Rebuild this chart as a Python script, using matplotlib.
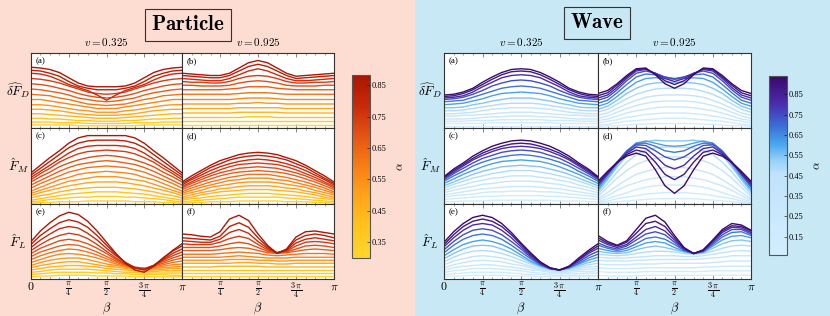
import numpy as np
import matplotlib
matplotlib.use("Agg")
import matplotlib.pyplot as plt
from matplotlib.colors import LinearSegmentedColormap, Normalize
from matplotlib.cm import ScalarMappable
from matplotlib.patches import Rectangle

plt.rcParams["mathtext.fontset"] = "cm"
plt.rcParams["font.family"] = "serif"
plt.rcParams["font.serif"] = ["Liberation Serif", "DejaVu Serif"]

# sample points in beta (units of pi)
beta_pi = [0, 0.0625, 0.125, 0.1875, 0.25, 0.3125, 0.375, 0.4375, 0.5,
           0.5625, 0.625, 0.6875, 0.75, 0.8125, 0.875, 0.9375, 1.0]

particle_alpha = [0.32, 0.36, 0.40, 0.445, 0.49, 0.53, 0.57, 0.615, 0.66, 0.70, 0.74, 0.785, 0.83, 0.87]
wave_alpha = [0.08, 0.145, 0.21, 0.28, 0.345, 0.41, 0.48, 0.545, 0.61, 0.68, 0.745, 0.81, 0.88, 0.93]

# curves, % of panel height, lowest alpha first
particle_a = [
    [4, 4, 4, 4, 4, 3, 3, 3, 3, 3, 3, 3, 4, 4, 4, 4, 4],
    [8, 8, 8, 7, 7, 7, 6, 6, 6, 6, 6, 7, 7, 7, 8, 8, 8],
    [13, 13, 12, 12, 11, 10, 10, 9, 9, 9, 10, 10, 11, 12, 12, 13, 13],
    [19, 19, 18, 17, 16, 15, 14, 13, 13, 13, 14, 15, 16, 17, 18, 19, 19],
    [25, 25, 24, 23, 21, 19, 18, 17, 17, 17, 18, 19, 21, 23, 24, 25, 25],
    [31, 31, 30, 28, 26, 24, 23, 21, 21, 21, 23, 24, 26, 28, 30, 31, 31],
    [38, 38, 36, 34, 32, 30, 28, 26, 26, 26, 28, 30, 32, 34, 36, 38, 38],
    [45, 44, 43, 40, 38, 35, 32, 31, 30, 31, 32, 35, 38, 40, 43, 44, 45],
    [52, 51, 49, 47, 44, 40, 38, 36, 35, 36, 38, 40, 44, 47, 49, 51, 52],
    [59, 58, 56, 53, 50, 46, 43, 41, 40, 41, 43, 46, 50, 53, 56, 58, 59],
    [66, 65, 63, 60, 56, 52, 48, 46, 45, 46, 48, 52, 56, 60, 63, 65, 66],
    [73, 72, 69, 64, 58, 54, 50, 44, 37, 44, 50, 54, 58, 64, 69, 72, 73],
    [77, 76, 73, 69, 62, 56, 53, 51, 51, 51, 53, 56, 62, 69, 73, 76, 77],
    [81, 80, 78, 74, 67, 60, 56, 55, 55, 55, 56, 60, 67, 74, 78, 80, 81],
]
particle_b = [
    [4, 4, 4, 4, 4, 4, 4, 4, 4, 4, 4, 4, 4, 4, 4, 4, 4],
    [9, 9, 9, 9, 9, 9, 9, 9, 9, 9, 9, 9, 9, 9, 9, 9, 9],
    [14, 14, 14, 14, 14, 14, 14, 15, 15, 15, 14, 14, 14, 14, 14, 14, 14],
    [20, 20, 20, 20, 20, 20, 21, 21, 21, 21, 21, 20, 20, 20, 20, 20, 20],
    [26, 26, 26, 26, 26, 26, 27, 27, 27, 27, 27, 26, 26, 26, 26, 26, 26],
    [32, 32, 32, 32, 32, 32, 33, 33, 34, 33, 33, 32, 32, 32, 32, 32, 32],
    [38, 38, 38, 38, 38, 38, 39, 40, 40, 40, 39, 38, 38, 38, 38, 38, 38],
    [45, 45, 45, 45, 45, 45, 46, 47, 47, 47, 46, 45, 45, 45, 45, 45, 45],
    [51, 51, 51, 51, 51, 52, 53, 55, 55, 55, 53, 52, 51, 51, 51, 51, 51],
    [57, 57, 56, 56, 56, 57, 60, 62, 63, 62, 60, 57, 56, 56, 56, 57, 57],
    [62, 61, 61, 60, 60, 62, 66, 69, 70, 69, 66, 62, 60, 60, 61, 61, 62],
    [66, 65, 64, 63, 63, 66, 71, 76, 79, 76, 71, 66, 63, 63, 64, 65, 66],
    [70, 69, 68, 67, 67, 70, 76, 82, 85, 82, 76, 70, 66, 67, 68, 69, 70],
    [73, 72, 71, 70, 70, 73, 80, 87, 90, 87, 80, 73, 69, 70, 71, 72, 73],
]
particle_c = [
    [1, 2, 2, 3, 3, 3, 4, 4, 4, 4, 4, 3, 3, 3, 2, 2, 1],
    [3, 4, 6, 7, 8, 9, 9, 10, 10, 10, 9, 9, 8, 7, 6, 4, 3],
    [5, 7, 9, 11, 13, 14, 15, 16, 16, 16, 15, 14, 13, 11, 9, 7, 5],
    [8, 11, 13, 16, 18, 20, 21, 22, 22, 22, 21, 20, 18, 16, 13, 11, 8],
    [11, 15, 18, 21, 24, 26, 28, 29, 29, 29, 28, 26, 24, 21, 18, 15, 11],
    [14, 18, 22, 26, 30, 32, 34, 36, 36, 36, 34, 32, 30, 26, 22, 18, 14],
    [17, 22, 27, 32, 35, 39, 41, 42, 43, 42, 41, 39, 35, 32, 27, 22, 17],
    [21, 27, 32, 37, 42, 45, 48, 49, 50, 49, 48, 45, 42, 37, 32, 27, 21],
    [25, 31, 37, 43, 48, 52, 54, 56, 57, 56, 54, 52, 48, 43, 37, 31, 25],
    [29, 36, 42, 49, 54, 58, 61, 63, 64, 63, 61, 58, 54, 49, 42, 36, 29],
    [32, 40, 47, 55, 61, 66, 69, 70, 71, 70, 69, 66, 61, 55, 47, 40, 32],
    [35, 43, 51, 59, 67, 73, 76, 77, 77, 77, 76, 73, 67, 59, 51, 43, 35],
    [38, 47, 56, 65, 74, 80, 83, 84, 84, 84, 83, 80, 74, 65, 56, 47, 38],
    [41, 51, 61, 70, 80, 87, 90, 90, 90, 90, 90, 87, 80, 70, 61, 51, 41],
]
particle_d = [
    [1, 2, 2, 3, 3, 3, 4, 4, 4, 4, 4, 3, 3, 3, 2, 2, 1],
    [3, 4, 5, 6, 7, 8, 9, 9, 9, 9, 9, 8, 7, 6, 5, 4, 3],
    [5, 7, 8, 10, 11, 12, 13, 14, 14, 14, 13, 12, 11, 10, 8, 7, 5],
    [7, 9, 12, 14, 16, 17, 18, 19, 19, 19, 18, 17, 16, 14, 12, 9, 7],
    [9, 12, 15, 17, 20, 21, 23, 24, 24, 24, 23, 21, 20, 17, 15, 12, 9],
    [12, 15, 18, 22, 24, 26, 28, 29, 29, 29, 28, 26, 24, 22, 18, 15, 12],
    [14, 18, 22, 25, 28, 31, 32, 34, 34, 34, 32, 31, 28, 25, 22, 18, 14],
    [16, 21, 25, 29, 32, 35, 37, 39, 39, 39, 37, 35, 32, 29, 25, 21, 16],
    [19, 24, 29, 33, 37, 40, 42, 43, 44, 43, 42, 40, 37, 33, 29, 24, 19],
    [21, 27, 32, 37, 41, 44, 47, 48, 49, 48, 47, 44, 41, 37, 32, 27, 21],
    [23, 29, 35, 40, 45, 49, 52, 53, 54, 53, 52, 49, 45, 40, 35, 29, 23],
    [25, 32, 38, 44, 49, 53, 56, 58, 59, 58, 56, 53, 49, 44, 38, 32, 25],
    [27, 34, 41, 48, 53, 58, 61, 63, 64, 63, 61, 58, 53, 48, 41, 34, 27],
    [29, 37, 44, 51, 57, 61, 65, 67, 68, 67, 65, 61, 57, 51, 44, 37, 29],
]
particle_e = [
    [3, 4, 4, 5, 5, 5, 5, 4, 4, 4, 4, 3, 3, 3, 3, 3, 3],
    [6, 7, 8, 9, 9, 9, 9, 8, 8, 7, 7, 6, 6, 6, 6, 5, 5],
    [9, 10, 12, 13, 13, 13, 13, 12, 11, 10, 9, 9, 8, 8, 8, 8, 8],
    [12, 14, 16, 17, 18, 18, 17, 16, 14, 13, 12, 11, 10, 10, 11, 11, 11],
    [15, 18, 20, 22, 23, 23, 21, 19, 17, 16, 14, 13, 12, 12, 13, 14, 14],
    [18, 22, 25, 27, 28, 28, 26, 23, 20, 18, 16, 14, 13, 14, 15, 16, 17],
    [22, 26, 30, 33, 34, 33, 31, 28, 24, 20, 17, 15, 14, 15, 17, 19, 20],
    [26, 31, 35, 38, 40, 39, 36, 32, 27, 22, 18, 15, 14, 16, 19, 22, 24],
    [30, 36, 40, 44, 46, 45, 41, 36, 30, 24, 19, 15, 14, 17, 21, 25, 28],
    [34, 41, 46, 51, 53, 51, 47, 41, 34, 26, 20, 16, 14, 18, 23, 28, 32],
    [38, 46, 53, 58, 61, 59, 54, 46, 37, 28, 20, 15, 13, 18, 25, 31, 36],
    [42, 52, 60, 67, 70, 68, 61, 52, 41, 31, 22, 15, 13, 18, 26, 34, 40],
    [46, 58, 67, 75, 79, 76, 69, 58, 45, 33, 22, 15, 12, 18, 28, 37, 44],
    [50, 64, 75, 84, 89, 86, 77, 64, 49, 34, 21, 12, 9, 17, 28, 38, 47],
]
particle_f = [
    [4, 4, 4, 4, 4, 4, 4, 4, 4, 4, 4, 4, 4, 4, 4, 4, 4],
    [8, 8, 8, 8, 8, 8, 8, 8, 8, 8, 8, 8, 8, 8, 8, 8, 8],
    [12, 12, 12, 12, 12, 12, 12, 12, 12, 12, 12, 12, 12, 12, 12, 12, 12],
    [16, 16, 16, 16, 17, 17, 17, 17, 17, 16, 16, 16, 16, 16, 16, 16, 16],
    [21, 21, 21, 21, 21, 21, 22, 22, 21, 21, 20, 20, 21, 21, 21, 21, 21],
    [25, 25, 25, 25, 25, 26, 26, 26, 25, 25, 24, 24, 25, 25, 25, 25, 25],
    [29, 29, 29, 29, 29, 30, 31, 30, 29, 28, 28, 28, 29, 29, 29, 29, 29],
    [33, 33, 33, 33, 34, 35, 36, 35, 34, 32, 31, 32, 33, 34, 34, 34, 33],
    [38, 38, 38, 38, 39, 41, 42, 41, 38, 35, 34, 35, 37, 39, 40, 39, 38],
    [42, 42, 42, 42, 44, 47, 49, 47, 42, 37, 35, 36, 40, 44, 45, 44, 42],
    [47, 46, 46, 46, 49, 54, 57, 54, 46, 39, 35, 37, 44, 49, 50, 49, 47],
    [51, 50, 49, 49, 53, 62, 66, 61, 50, 41, 35, 38, 48, 53, 55, 53, 51],
    [55, 54, 53, 52, 57, 70, 75, 69, 55, 43, 35, 39, 52, 58, 60, 58, 55],
    [60, 59, 57, 56, 63, 80, 85, 78, 60, 45, 34, 40, 56, 63, 64, 62, 60],
]

wave_a = [
    [3, 3, 3, 3, 3, 3, 3, 3, 3, 3, 3, 3, 3, 3, 3, 3, 3],
    [6, 6, 6, 6, 6, 7, 7, 7, 7, 7, 7, 7, 6, 6, 6, 6, 6],
    [9, 9, 9, 10, 10, 10, 11, 11, 11, 11, 11, 10, 10, 10, 9, 9, 9],
    [12, 12, 12, 13, 14, 15, 15, 16, 16, 16, 15, 15, 14, 13, 12, 12, 12],
    [16, 16, 17, 17, 18, 19, 20, 21, 21, 21, 20, 19, 18, 17, 17, 16, 16],
    [19, 19, 20, 21, 23, 25, 26, 27, 27, 27, 26, 25, 23, 21, 20, 19, 19],
    [23, 23, 24, 26, 28, 30, 32, 33, 33, 33, 32, 30, 28, 26, 24, 23, 23],
    [27, 27, 28, 31, 33, 36, 38, 40, 40, 40, 38, 36, 33, 31, 28, 27, 27],
    [31, 32, 33, 36, 39, 43, 46, 47, 48, 47, 46, 43, 39, 36, 33, 32, 31],
    [35, 36, 37, 41, 45, 49, 53, 55, 56, 55, 53, 49, 45, 41, 37, 36, 35],
    [38, 39, 41, 45, 50, 56, 60, 63, 64, 63, 60, 56, 50, 45, 41, 39, 38],
    [40, 41, 43, 48, 55, 61, 67, 70, 71, 70, 67, 61, 55, 48, 43, 41, 40],
    [42, 43, 46, 51, 58, 65, 71, 75, 76, 75, 71, 65, 58, 51, 46, 43, 42],
    [44, 45, 48, 53, 61, 68, 74, 78, 79, 78, 74, 68, 61, 53, 48, 45, 44],
]
wave_b = [
    [2, 3, 3, 4, 5, 5, 6, 6, 6, 6, 6, 5, 5, 4, 3, 3, 2],
    [4, 5, 7, 9, 10, 11, 12, 13, 13, 13, 12, 11, 10, 9, 7, 5, 4],
    [7, 9, 11, 14, 16, 18, 19, 20, 20, 20, 19, 18, 16, 14, 11, 9, 7],
    [10, 12, 16, 20, 23, 25, 27, 28, 28, 28, 27, 25, 23, 20, 16, 12, 10],
    [13, 16, 21, 26, 30, 33, 35, 36, 36, 36, 35, 33, 30, 26, 21, 16, 13],
    [17, 20, 26, 32, 37, 41, 43, 44, 44, 44, 43, 41, 37, 32, 26, 20, 17],
    [21, 25, 32, 39, 45, 49, 52, 53, 53, 53, 52, 49, 45, 39, 32, 25, 21],
    [25, 29, 37, 46, 53, 58, 60, 61, 61, 61, 60, 58, 53, 46, 37, 29, 25],
    [29, 33, 42, 52, 61, 66, 67, 66, 65, 66, 67, 66, 61, 52, 42, 33, 29],
    [33, 37, 47, 58, 68, 72, 71, 68, 66, 68, 71, 72, 68, 58, 47, 37, 33],
    [37, 41, 51, 63, 73, 76, 73, 68, 65, 68, 73, 76, 73, 63, 51, 41, 37],
    [40, 44, 54, 66, 76, 78, 73, 66, 62, 66, 73, 78, 76, 66, 54, 44, 40],
    [43, 47, 57, 68, 78, 79, 72, 63, 58, 63, 72, 79, 78, 68, 57, 47, 43],
    [46, 50, 59, 70, 79, 80, 71, 59, 53, 59, 71, 80, 79, 70, 59, 50, 46],
]
wave_c = [
    [3, 3, 4, 4, 4, 5, 5, 5, 5, 5, 5, 5, 4, 4, 4, 3, 3],
    [6, 7, 8, 9, 10, 10, 11, 11, 11, 11, 11, 10, 10, 9, 8, 7, 6],
    [9, 11, 12, 13, 15, 16, 16, 17, 17, 17, 16, 16, 15, 13, 12, 11, 9],
    [12, 14, 16, 18, 20, 21, 22, 23, 23, 23, 22, 21, 20, 18, 16, 14, 12],
    [15, 18, 21, 23, 26, 27, 29, 30, 30, 30, 29, 27, 26, 23, 21, 18, 15],
    [18, 22, 25, 29, 31, 34, 35, 37, 37, 37, 35, 34, 31, 29, 25, 22, 18],
    [21, 26, 30, 34, 37, 40, 42, 44, 44, 44, 42, 40, 37, 34, 30, 26, 21],
    [24, 29, 34, 39, 43, 46, 49, 50, 51, 50, 49, 46, 43, 39, 34, 29, 24],
    [27, 33, 39, 44, 49, 53, 56, 57, 58, 57, 56, 53, 49, 44, 39, 33, 27],
    [30, 37, 43, 50, 55, 59, 62, 64, 65, 64, 62, 59, 55, 50, 43, 37, 30],
    [32, 40, 47, 54, 60, 64, 68, 70, 71, 70, 68, 64, 60, 54, 47, 40, 32],
    [34, 42, 50, 58, 64, 69, 73, 75, 76, 75, 73, 69, 64, 58, 50, 42, 34],
    [35, 44, 52, 60, 67, 72, 76, 79, 80, 79, 76, 72, 67, 60, 52, 44, 35],
    [36, 46, 54, 63, 70, 76, 80, 83, 84, 83, 80, 76, 70, 63, 54, 46, 36],
]
wave_d = [
    [1, 2, 3, 4, 5, 6, 7, 7, 7, 7, 7, 6, 5, 4, 3, 2, 1],
    [2, 4, 7, 9, 11, 13, 14, 15, 15, 15, 14, 13, 11, 9, 7, 4, 2],
    [3, 7, 11, 15, 19, 22, 24, 25, 25, 25, 24, 22, 19, 15, 11, 7, 3],
    [5, 11, 18, 24, 28, 32, 34, 36, 36, 36, 34, 32, 28, 24, 18, 11, 5],
    [7, 15, 24, 32, 39, 43, 46, 48, 48, 48, 46, 43, 39, 32, 24, 15, 7],
    [10, 22, 34, 44, 52, 57, 60, 62, 62, 62, 60, 57, 52, 44, 34, 22, 10],
    [13, 27, 42, 55, 65, 71, 74, 75, 75, 75, 74, 71, 65, 55, 42, 27, 13],
    [16, 32, 49, 64, 76, 82, 84, 83, 83, 83, 84, 82, 76, 64, 49, 32, 16],
    [19, 35, 52, 68, 80, 83, 80, 77, 76, 77, 80, 83, 80, 68, 52, 35, 19],
    [22, 38, 55, 70, 80, 80, 76, 70, 68, 70, 76, 80, 80, 70, 55, 38, 22],
    [24, 39, 55, 69, 78, 77, 70, 62, 58, 62, 70, 77, 78, 69, 55, 39, 24],
    [26, 40, 55, 67, 75, 73, 63, 51, 46, 51, 63, 73, 75, 67, 55, 40, 26],
    [28, 41, 54, 65, 71, 68, 55, 39, 32, 39, 55, 68, 71, 65, 54, 41, 28],
    [30, 43, 55, 63, 67, 63, 45, 24, 14, 24, 45, 63, 67, 63, 55, 43, 30],
]
wave_e = [
    [3, 4, 4, 5, 5, 5, 5, 4, 4, 4, 3, 3, 3, 3, 3, 3, 3],
    [6, 7, 8, 9, 9, 9, 9, 8, 7, 6, 6, 5, 5, 5, 5, 5, 5],
    [9, 11, 12, 14, 14, 14, 13, 12, 11, 9, 8, 7, 7, 7, 7, 8, 8],
    [12, 15, 17, 18, 19, 19, 17, 16, 14, 12, 11, 9, 9, 9, 10, 10, 11],
    [15, 19, 22, 24, 25, 24, 23, 20, 18, 15, 12, 11, 10, 11, 12, 13, 14],
    [19, 24, 27, 30, 31, 30, 28, 25, 21, 17, 14, 12, 11, 12, 14, 16, 17],
    [23, 29, 34, 37, 38, 37, 34, 30, 25, 20, 16, 13, 12, 13, 16, 19, 21],
    [27, 34, 40, 44, 45, 44, 40, 35, 29, 22, 17, 13, 12, 14, 18, 22, 25],
    [31, 39, 46, 50, 52, 50, 46, 40, 32, 24, 18, 14, 12, 15, 20, 25, 29],
    [35, 45, 53, 58, 60, 58, 53, 45, 36, 27, 19, 14, 12, 15, 21, 28, 33],
    [39, 50, 59, 65, 67, 65, 59, 50, 40, 29, 20, 14, 12, 16, 23, 31, 37],
    [43, 55, 65, 72, 74, 72, 65, 55, 43, 31, 21, 14, 12, 16, 25, 34, 41],
    [46, 59, 70, 77, 80, 77, 70, 59, 46, 33, 22, 15, 12, 17, 26, 36, 44],
    [49, 63, 74, 82, 85, 82, 74, 62, 48, 35, 23, 15, 12, 17, 28, 38, 47],
]
wave_f = [
    [5, 4, 4, 4, 4, 5, 5, 5, 5, 5, 5, 5, 5, 5, 5, 5, 5],
    [10, 9, 9, 9, 9, 10, 10, 10, 10, 10, 10, 10, 11, 11, 11, 11, 11],
    [15, 14, 14, 14, 14, 15, 15, 15, 15, 15, 15, 16, 16, 17, 17, 17, 17],
    [20, 19, 19, 19, 20, 20, 20, 21, 21, 21, 21, 21, 22, 23, 24, 24, 24],
    [25, 24, 24, 24, 25, 25, 26, 26, 26, 26, 26, 27, 28, 29, 31, 31, 31],
    [29, 28, 28, 28, 29, 30, 31, 31, 31, 30, 30, 31, 33, 35, 37, 38, 37],
    [33, 32, 31, 32, 34, 36, 37, 37, 36, 34, 33, 34, 37, 41, 44, 45, 44],
    [37, 35, 34, 35, 39, 42, 44, 42, 39, 36, 34, 35, 41, 47, 51, 52, 50],
    [41, 38, 36, 38, 43, 48, 50, 48, 42, 37, 34, 36, 44, 52, 57, 58, 55],
    [45, 41, 38, 41, 47, 54, 56, 53, 46, 38, 34, 37, 46, 56, 62, 63, 58],
    [48, 43, 40, 44, 52, 60, 63, 59, 49, 39, 34, 37, 48, 59, 66, 66, 60],
    [52, 46, 42, 46, 56, 66, 70, 64, 52, 40, 34, 38, 50, 62, 69, 68, 62],
    [55, 48, 44, 49, 61, 74, 77, 70, 55, 41, 34, 38, 51, 64, 71, 70, 64],
    [58, 50, 45, 51, 66, 81, 85, 76, 58, 42, 34, 39, 52, 66, 74, 72, 65],
]

row_labels = [r"$\widehat{\delta F}_D$", r"$\hat{F}_M$", r"$\hat{F}_L$"]
col_titles = [r"$v = 0.325$", r"$v = 0.925$"]
panel_tags = ["(a)", "(b)", "(c)", "(d)", "(e)", "(f)"]
tick_pos = [0, 0.25, 0.5, 0.75, 1.0]
tick_text = [r"$0$", r"$\frac{\pi}{4}$", r"$\frac{\pi}{2}$", r"$\frac{3\,\pi}{4}$", r"$\pi$"]

particle_cmap = LinearSegmentedColormap.from_list(
    "particle", ["#ffd62e", "#ffc41c", "#ffa51a", "#f77f16", "#e45414", "#c82a0a", "#a81600"])
wave_cmap = LinearSegmentedColormap.from_list(
    "wave", [(0.0, "#d4edff"), (0.45, "#c0e3fb"), (0.53, "#96d0f8"), (0.62, "#4aa6ee"),
             (0.72, "#3a6fd8"), (0.84, "#4b2eb0"), (1.0, "#3a0868")])
particle_norm = Normalize(0.30, 0.882)
wave_norm = Normalize(0.06, 0.94)

fig = plt.figure(figsize=(8.3, 3.16), dpi=100)
fig.add_artist(Rectangle((0, 0), 0.5, 1, transform=fig.transFigure, fc="#fddcd2", ec="none", zorder=-10))
fig.add_artist(Rectangle((0.5, 0), 0.5, 1, transform=fig.transFigure, fc="#c9e8f5", ec="none", zorder=-10))

W, H = 830.0, 316.0
x = np.pi * np.array(beta_pi)


def draw_side(data, alphas, cmap, norm, col_px, title, title_xy, cbar_px, ylab_x):
    rows_px = [(53, 128), (128, 204), (204, 279)]
    for r, (top, bot) in enumerate(rows_px):
        for c, (left, right) in enumerate(col_px):
            ax = fig.add_axes([left / W, 1 - bot / H, (right - left) / W, (bot - top) / H])
            for a, ys in zip(alphas, data[r * 2 + c]):
                ax.plot(x, ys, color=cmap(norm(a)), lw=1.0, solid_joinstyle="round")
            ax.set_xlim(0, np.pi)
            ax.set_ylim(0, 100)
            ax.set_yticks([])
            ax.set_xticks(np.pi * np.array(tick_pos))
            ax.set_xticks(np.pi * np.arange(17) / 16, minor=True)
            ax.tick_params(which="both", direction="in", top=True, bottom=True,
                           colors="#555555", labelcolor="black")
            ax.tick_params(which="major", length=3, width=0.5)
            ax.tick_params(which="minor", length=1.5, width=0.4)
            for sp in ax.spines.values():
                sp.set_color("#333333")
                sp.set_linewidth(0.8)
            ax.text(0.03, 0.94, panel_tags[r * 2 + c], transform=ax.transAxes,
                    fontsize=6.5, va="top", ha="left")
            if r == 2:
                labels = list(tick_text)
                if c == 1:
                    labels[0] = ""
                ax.set_xticklabels(labels, fontsize=8.5)
                ax.tick_params(which="major", pad=1.5)
                ax.text(0.5, -0.39, r"$\beta$", transform=ax.transAxes, fontsize=9,
                        ha="center", va="center")
            else:
                ax.set_xticklabels([])
            if r == 0:
                ax.text(0.5, 1.07, col_titles[c], transform=ax.transAxes, fontsize=8,
                        ha="center", va="bottom")
        fig.text(ylab_x / W, 1 - (top + bot) / 2 / H, row_labels[r], fontsize=9.5,
                 ha="center", va="center")

    fig.text(title_xy[0] / W, 1 - title_xy[1] / H, title, fontsize=15, ha="center", va="center",
             bbox=dict(boxstyle="square,pad=0.3", fc="none", ec="#333333", lw=0.8))

    cl, ct, cr, cb_ = cbar_px
    cax = fig.add_axes([cl / W, 1 - cb_ / H, (cr - cl) / W, (cb_ - ct) / H])
    sm = ScalarMappable(norm=norm, cmap=cmap)
    ticks = [t for t in [0.15, 0.25, 0.35, 0.45, 0.55, 0.65, 0.75, 0.85] if norm.vmin < t < norm.vmax]
    cbar = fig.colorbar(sm, cax=cax, ticks=ticks)
    cbar.ax.tick_params(labelsize=6, direction="in", length=2, width=0.4, pad=1)
    cbar.ax.set_yticklabels([f"{t:.2f}" for t in ticks])
    cbar.outline.set_edgecolor("#555555")
    cbar.outline.set_linewidth(0.8)
    cbar.set_label(r"$\alpha$", fontsize=8.5, rotation=90, labelpad=6)


particle_data = [particle_a, particle_b, particle_c, particle_d, particle_e, particle_f]
wave_data = [wave_a, wave_b, wave_c, wave_d, wave_e, wave_f]

draw_side(particle_data, particle_alpha, particle_cmap, particle_norm,
          [(31, 182), (182, 334)], r"$\mathbf{Particle}$", (188, 25), (352, 75, 370, 258), 18)
draw_side(wave_data, wave_alpha, wave_cmap, wave_norm,
          [(444, 598), (598, 751)], r"$\mathbf{Wave}$", (597, 23), (769, 76, 787, 255), 430)

fig.savefig("out.png", dpi=100)
